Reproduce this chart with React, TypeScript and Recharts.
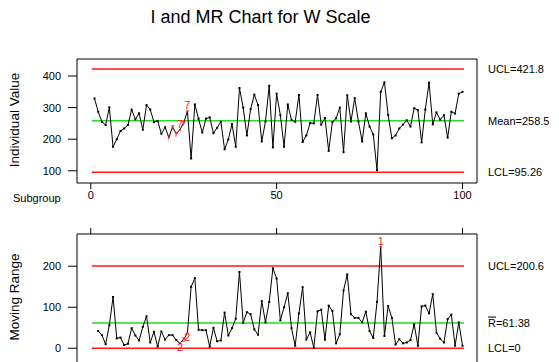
import { LineChart, Line, XAxis, YAxis, ReferenceLine, ReferenceArea } from "recharts";

const subgroups = Array.from({ length: 100 }, (_, i) => i + 1);

const individualValues = [
  329, 287, 255, 245, 301, 176, 200, 226, 234, 245,
  294, 263, 282, 230, 308, 294, 254, 258, 217, 238,
  206, 238, 218, 230, 252, 289, 139, 310, 265, 221,
  265, 269, 219, 236, 255, 168, 199, 248, 176, 362,
  300, 212, 295, 341, 308, 193, 256, 369, 174, 344,
  276, 176, 310, 261, 255, 340, 191, 212, 251, 250,
  340, 246, 267, 163, 254, 266, 300, 159, 339, 256,
  330, 256, 193, 282, 240, 215, 102, 350, 380, 277,
  203, 212, 234, 246, 260, 240, 298, 292, 190, 294,
  379, 247, 285, 262, 276, 205, 287, 281, 344, 350,
];

// first subgroup has no moving range
const movingRanges = [
  null, 42, 32, 10, 56, 125, 24, 26, 8, 11,
  49, 31, 19, 52, 78, 14, 40, 4, 41, 21,
  32, 32, 20, 12, 22, 37, 150, 171, 45, 44,
  44, 4, 50, 17, 19, 87, 31, 49, 72, 186,
  62, 88, 83, 46, 33, 115, 63, 113, 195, 170,
  68, 100, 134, 49, 6, 85, 149, 21, 39, 1,
  90, 94, 21, 104, 91, 12, 34, 141, 180, 83,
  74, 74, 63, 89, 42, 25, 113, 248, 30, 103,
  74, 9, 22, 12, 14, 20, 58, 6, 102, 104,
  85, 132, 38, 23, 14, 71, 82, 6, 63, 6,
];

const iUcl = 421.8;
const iMean = 258.5;
const iLcl = 95.26;
const mrUcl = 200.6;
const mrBar = 61.38;
const mrLcl = 0;

const xTicks = [0, 50, 100];
const iTicks = [100, 200, 300, 400];
const mrTicks = [0, 100, 200];

// failed test points: subgroup -> test number
const iFlags: Record<number, string> = { 21: "7", 22: "7", 23: "7", 24: "7", 25: "7", 26: "7" };
const mrFlags: Record<number, string> = { 24: "2", 25: "2", 26: "2", 78: "1" };
// the last point of a run gets the full size label
const bigFlags = [26, 24, 78];

const iData = subgroups.map((s, k) => ({ s, v: individualValues[k] }));
const mrData = subgroups.map((s, k) => ({ s, v: movingRanges[k] }));

const RED = "#ff1a1a";
const GREEN = "#22dd22";
const FONT = "'Liberation Sans', Arial, sans-serif";
const X_DOMAIN = [-3.7, 103.9];
const I_DOMAIN = [61.4, 453.8];
const MR_DOMAIN = [-36, 278.6];
const LINE_FROM = 0.3;
const LINE_TO = 100.4;

function makeDot(flags: Record<number, string>, dyFor: (t: string) => number) {
  return (p: any) => {
    const { cx, cy, payload, index } = p;
    if (cx == null || cy == null || payload.v == null) return <g key={index} />;
    const t = flags[payload.s];
    const big = bigFlags.includes(payload.s);
    return (
      <g key={index}>
        <rect x={cx - 1} y={cy - 1} width={2} height={2} fill={t ? RED : "#000"} />
        {t && (
          <text x={cx} y={cy + (big ? dyFor(t) : 3)} textAnchor="middle" fill={RED} fontSize={big ? 11 : 8}>
            {t}
          </text>
        )}
      </g>
    );
  };
}

function SideLabel(props: any) {
  const { viewBox, text, bar } = props;
  const x = viewBox.x + viewBox.width + 24;
  const y = viewBox.y;
  return (
    <g>
      <text x={x} y={y} dy="0.35em" fontSize={11} fill="#000" fontFamily={FONT}>
        {text}
      </text>
      {bar && <line x1={x} x2={x + 8} y1={y - 6} y2={y - 6} stroke="#000" strokeWidth={1} />}
    </g>
  );
}

const tickStyle = { fontSize: 11, fill: "#000", fontFamily: FONT };

function IChart() {
  return (
    <LineChart width={559} height={215} data={iData} margin={{ top: 59, right: 82, left: 32, bottom: 8 }}>
      <ReferenceArea x1={X_DOMAIN[0]} x2={X_DOMAIN[1]} y1={I_DOMAIN[0]} y2={I_DOMAIN[1]} fill="none" stroke="#000" strokeWidth={1} />
      <XAxis type="number" dataKey="s" domain={X_DOMAIN} allowDataOverflow ticks={xTicks} height={24}
        axisLine={false} tickLine={{ stroke: "#000" }} tickSize={6} tickMargin={2} tick={tickStyle} />
      <YAxis type="number" domain={I_DOMAIN} allowDataOverflow ticks={iTicks} width={45}
        axisLine={false} tickLine={{ stroke: "#000" }} tickSize={9} tickMargin={7} tick={tickStyle} />
      <ReferenceLine segment={[{ x: LINE_FROM, y: iUcl }, { x: LINE_TO, y: iUcl }]} stroke={RED} strokeWidth={1.5}
        label={<SideLabel text="UCL=421.8" />} />
      <ReferenceLine segment={[{ x: LINE_FROM, y: iMean }, { x: LINE_TO, y: iMean }]} stroke={GREEN} strokeWidth={1.5}
        label={<SideLabel text="Mean=258.5" />} />
      <ReferenceLine segment={[{ x: LINE_FROM, y: iLcl }, { x: LINE_TO, y: iLcl }]} stroke={RED} strokeWidth={1.5}
        label={<SideLabel text="LCL=95.26" />} />
      <Line type="linear" dataKey="v" stroke="#000" strokeWidth={1} isAnimationActive={false}
        dot={makeDot(iFlags, () => -2)} activeDot={false} />
    </LineChart>
  );
}

function MRChart() {
  return (
    <LineChart width={559} height={170} data={mrData} margin={{ top: 24, right: 82, left: 32, bottom: 7 }}>
      <ReferenceArea x1={X_DOMAIN[0]} x2={X_DOMAIN[1]} y1={MR_DOMAIN[0]} y2={MR_DOMAIN[1]} fill="none" stroke="#000" strokeWidth={1} />
      <XAxis type="number" dataKey="s" orientation="top" domain={X_DOMAIN} allowDataOverflow ticks={xTicks} height={10}
        axisLine={false} tickLine={{ stroke: "#000" }} tickSize={6} tick={() => <g />} />
      <YAxis type="number" domain={MR_DOMAIN} allowDataOverflow ticks={mrTicks} width={45}
        axisLine={false} tickLine={{ stroke: "#000" }} tickSize={9} tickMargin={7} tick={tickStyle} />
      <ReferenceLine segment={[{ x: LINE_FROM, y: mrUcl }, { x: LINE_TO, y: mrUcl }]} stroke={RED} strokeWidth={1.5}
        label={<SideLabel text="UCL=200.6" />} />
      <ReferenceLine segment={[{ x: LINE_FROM, y: mrBar }, { x: LINE_TO, y: mrBar }]} stroke={GREEN} strokeWidth={1.5}
        label={<SideLabel text="R=61.38" bar />} />
      <ReferenceLine segment={[{ x: LINE_FROM, y: mrLcl }, { x: LINE_TO, y: mrLcl }]} stroke={RED} strokeWidth={1.5}
        label={<SideLabel text="LCL=0" />} />
      <Line type="linear" dataKey="v" stroke="#000" strokeWidth={1} isAnimationActive={false} connectNulls={false}
        dot={makeDot(mrFlags, (t) => (t === "1" ? -2 : 8))} activeDot={false} />
    </LineChart>
  );
}

export default function App() {
  return (
    <div style={{ position: "absolute", left: 0, top: 0, width: 559, height: 362, overflow: "hidden", background: "#fff", fontFamily: FONT }}>
      <div style={{ position: "absolute", left: 0, top: 0 }}>
        <IChart />
      </div>
      <div style={{ position: "absolute", left: 0, top: 200 }}>
        <MRChart />
      </div>
      <svg width={559} height={362} style={{ position: "absolute", left: 0, top: 0, pointerEvents: "none" }} fontFamily={FONT}>
        <text x={260.5} y={23} textAnchor="middle" fontSize={18} fill="#000">I and MR Chart for W Scale</text>
        <text transform="translate(14,120) rotate(-90)" textAnchor="middle" dy="0.35em" fontSize={13.5} fill="#000">Individual Value</text>
        <text transform="translate(14,297) rotate(-90)" textAnchor="middle" dy="0.35em" fontSize={13.5} fill="#000">Moving Range</text>
        <text x={13} y={202} fontSize={11} fill="#000">Subgroup</text>
      </svg>
    </div>
  );
}
